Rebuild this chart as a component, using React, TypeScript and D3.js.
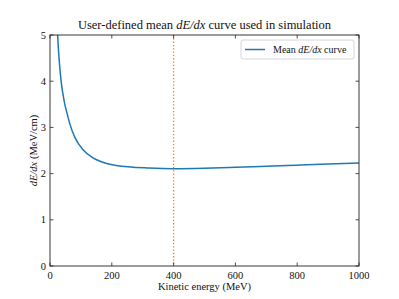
import React from "react";
import * as d3 from "d3";

const energies = [18, 21, 24, 27, 31, 36, 42, 48, 55, 65, 80, 107, 134, 160, 214, 321, 400, 500, 600, 700, 800, 900, 1000];
const dedx = [6.6, 5.7, 5.1, 4.72, 4.35, 4.0, 3.72, 3.5, 3.31, 3.06, 2.79, 2.517, 2.364, 2.272, 2.177, 2.12, 2.105, 2.115, 2.135, 2.158, 2.182, 2.206, 2.23];
const xTicks = [0, 200, 400, 600, 800, 1000];
const yTicks = [0, 1, 2, 3, 4, 5];
const markerEnergy = 400;

const W = 399, H = 299;
const m = { left: 50, right: 359, top: 35, bottom: 266 };
const font = "'Liberation Serif', 'DejaVu Serif', serif";

export default function App() {
  const x = d3.scaleLinear().domain([0, 1000]).range([m.left, m.right]);
  const y = d3.scaleLinear().domain([0, 5]).range([m.bottom, m.top]);
  const pts = energies.map((e, i) => [e, dedx[i]] as [number, number]);
  const line = d3.line<[number, number]>().x(d => x(d[0])).y(d => y(d[1])).curve(d3.curveMonotoneX);
  const tl = 3.5;
  return (
    <svg width={W} height={H} style={{ position: "absolute", left: 0, top: 0 }} fontFamily={font}>
      <rect width={W} height={H} fill="white" />
      <defs>
        <clipPath id="plot"><rect x={m.left} y={m.top} width={m.right - m.left} height={m.bottom - m.top} /></clipPath>
      </defs>
      <g clipPath="url(#plot)">
        <path d={line(pts) || ""} fill="none" stroke="#1f77b4" strokeWidth={1.5} />
        <line x1={x(markerEnergy)} x2={x(markerEnergy)} y1={m.top} y2={m.bottom} stroke="#ff7f0e" strokeWidth={1.3} strokeDasharray="1.3,2" />
      </g>
      <rect x={m.left} y={m.top} width={m.right - m.left} height={m.bottom - m.top} fill="none" stroke="#222" strokeWidth={0.9} />
      {xTicks.map(t => (
        <g key={"x" + t}>
          <line x1={x(t)} x2={x(t)} y1={m.bottom} y2={m.bottom - tl} stroke="#222" strokeWidth={0.8} />
          <line x1={x(t)} x2={x(t)} y1={m.top} y2={m.top + tl} stroke="#222" strokeWidth={0.8} />
          <text x={x(t)} y={m.bottom + 13} fontSize={10.5} textAnchor="middle" fill="#111">{t}</text>
        </g>
      ))}
      {yTicks.map(t => (
        <g key={"y" + t}>
          <line x1={m.left} x2={m.left + tl} y1={y(t)} y2={y(t)} stroke="#222" strokeWidth={0.8} />
          <line x1={m.right} x2={m.right - tl} y1={y(t)} y2={y(t)} stroke="#222" strokeWidth={0.8} />
          <text x={m.left - 4} y={y(t) + 3.5} fontSize={10.5} textAnchor="end" fill="#111">{t}</text>
        </g>
      ))}
      <text x={(m.left + m.right) / 2} y={29} fontSize={12.5} textAnchor="middle" fill="#111">
        User-defined mean <tspan fontStyle="italic">dE/dx</tspan> curve used in simulation
      </text>
      <text x={(m.left + m.right) / 2} y={290} fontSize={10.5} textAnchor="middle" fill="#111">Kinetic energy (MeV)</text>
      <text transform={`translate(37,${(m.top + m.bottom) / 2}) rotate(-90)`} fontSize={10.5} textAnchor="middle" fill="#111">
        <tspan fontStyle="italic">dE/dx</tspan> (MeV/cm)
      </text>
      <g>
        <rect x={241} y={40} width={113} height={19} rx={2} fill="white" stroke="#ccc" strokeWidth={0.8} />
        <line x1={245} x2={265} y1={49.5} y2={49.5} stroke="#1f77b4" strokeWidth={1.5} />
        <text x={273} y={53} fontSize={10} fill="#111">Mean <tspan fontStyle="italic">dE/dx</tspan> curve</text>
      </g>
    </svg>
  );
}
